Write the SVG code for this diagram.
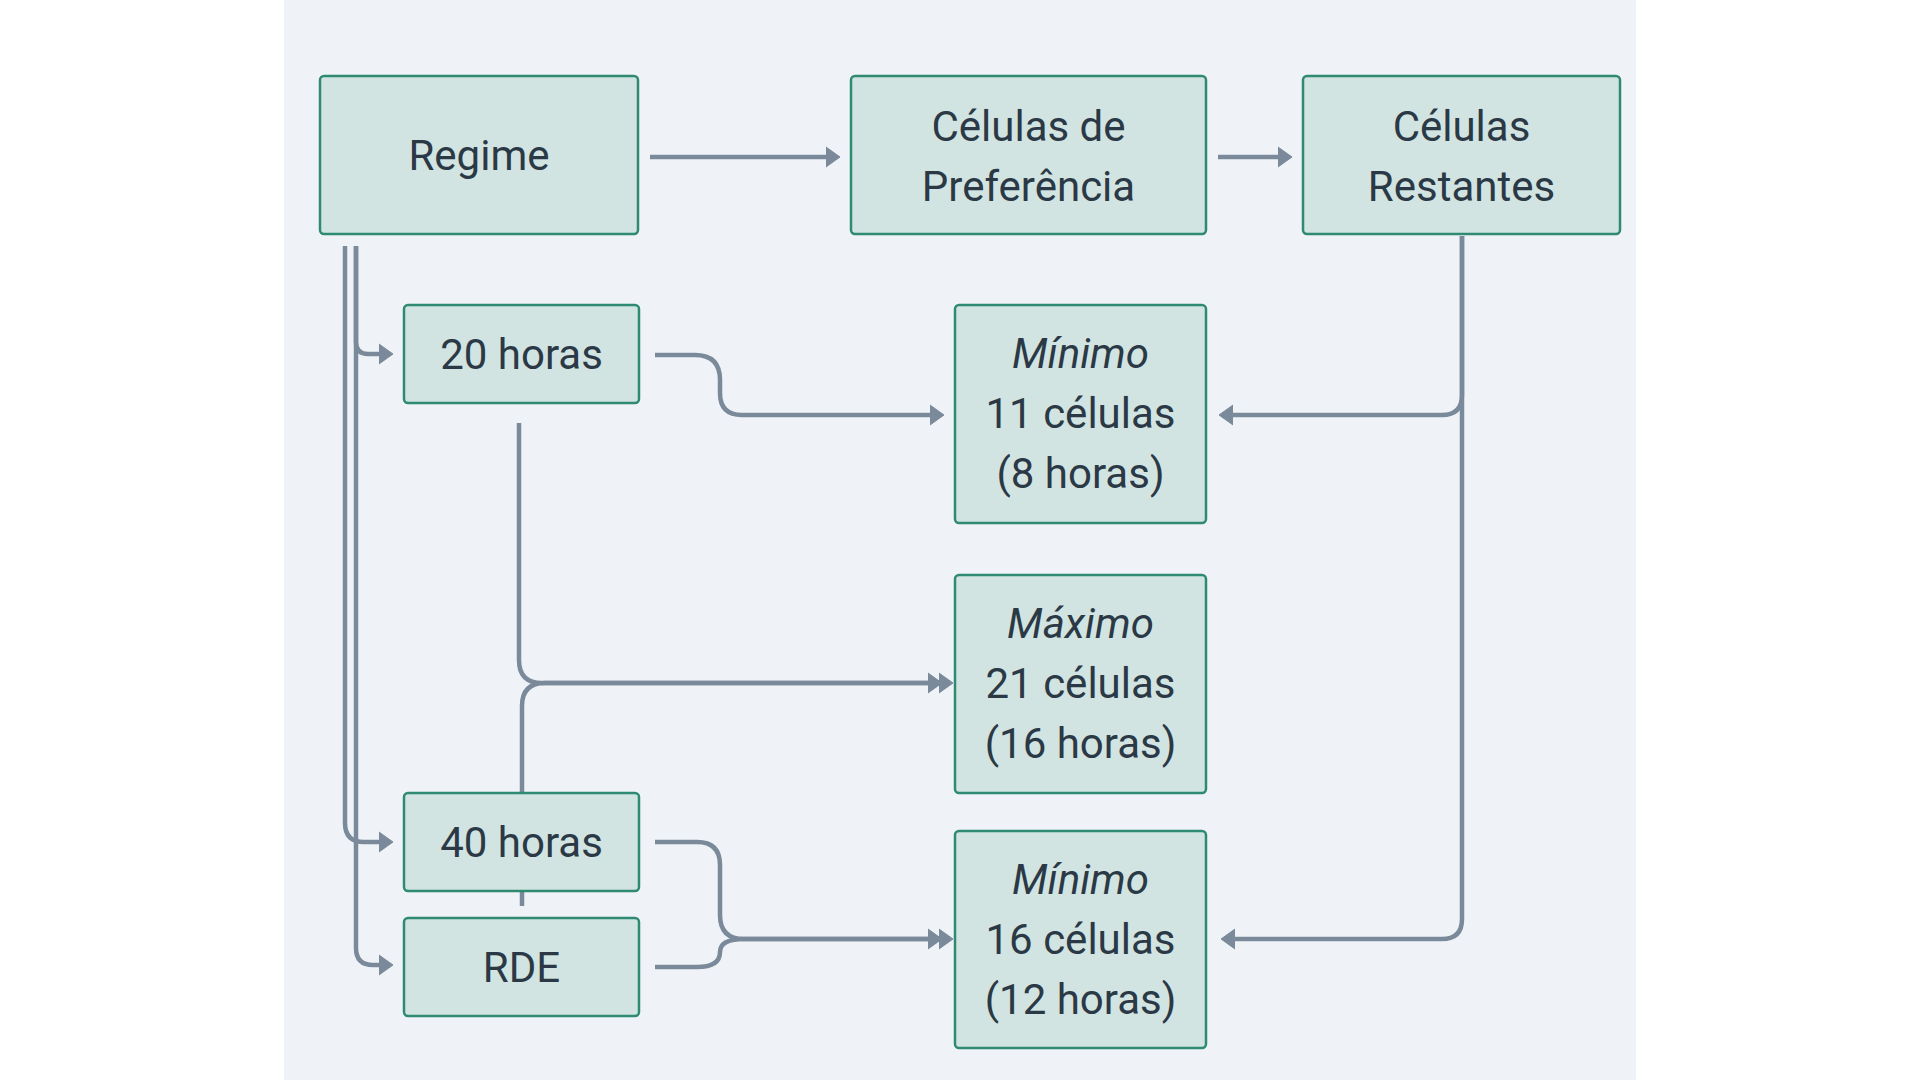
<svg xmlns="http://www.w3.org/2000/svg" width="1920" height="1080" viewBox="0 0 1920 1080">
<style>
.node rect{fill:#d2e4e1;stroke:#2e8a72;stroke-width:2.5}
.node text{font-family:Roboto,"Liberation Sans",sans-serif;font-size:42px;fill:#2b3946;text-anchor:middle}
.it{font-style:italic}
#edges path{fill:none;stroke:#7b8a9a;stroke-width:4.5}
</style>
<defs>
<marker id="arr" viewBox="0 -11 15 22" refX="5" refY="0" markerWidth="15" markerHeight="22" markerUnits="userSpaceOnUse" orient="auto">
<path d="M0,-10 L14,0 L0,10 z" fill="#7b8a9a" stroke="#7b8a9a" stroke-width="1" stroke-linejoin="round"/>
</marker>
</defs>
<rect x="0" y="0" width="1920" height="1080" fill="#ffffff"/>
<rect x="284" y="0" width="1352" height="1080" fill="#eff3f7"/>
<g id="edges">
<path d="M650,157 H831" marker-end="url(#arr)"/>
<path d="M1218,157 H1283" marker-end="url(#arr)"/>
<path d="M356,246 V342 Q356,354 368,354 H384" marker-end="url(#arr)"/>
<path d="M345,246 V823 Q345,842 364,842 H384" marker-end="url(#arr)"/>
<path d="M356,246 V948 Q356,965 373,965 H384" marker-end="url(#arr)"/>
<path d="M655,355 H695 Q720,355 720,380 V393 Q720,415 742,415 H935" marker-end="url(#arr)"/>
<path d="M1462,236 V395 Q1462,415 1442,415 H1228" marker-end="url(#arr)"/>
<path d="M1462,236 V919 Q1462,939 1442,939 H1230" marker-end="url(#arr)"/>
<path d="M519,423 V660 Q519,683 542,683 H933" marker-end="url(#arr)"/>
<path d="M522,906 V706 Q522,683 545,683 H944" marker-end="url(#arr)"/>
<path d="M655,842 H697 Q720,842 720,865 V915 Q720,939 744,939 H933" marker-end="url(#arr)"/>
<path d="M655,967 H697 Q720,967 720,952 Q720,939 744,939 H944" marker-end="url(#arr)"/>
</g>
<g id="regime" class="node"><rect x="320" y="76" width="318" height="158" rx="4"/><text x="479" y="170">Regime</text></g>
<g id="celulas-preferencia" class="node"><rect x="851" y="76" width="355" height="158" rx="4"/><text x="1028.5" y="141">Células de</text><text x="1028.5" y="201">Preferência</text></g>
<g id="celulas-restantes" class="node"><rect x="1303" y="76" width="317" height="158" rx="4"/><text x="1461.5" y="141">Células</text><text x="1461.5" y="201">Restantes</text></g>
<g id="h20" class="node"><rect x="404" y="305" width="235" height="98" rx="4"/><text x="521.5" y="369">20 horas</text></g>
<g id="h40" class="node"><rect x="404" y="793" width="235" height="98" rx="4"/><text x="521.5" y="857">40 horas</text></g>
<g id="rde" class="node"><rect x="404" y="918" width="235" height="98" rx="4"/><text x="521.5" y="982">RDE</text></g>
<g id="min11" class="node"><rect x="955" y="305" width="251" height="218" rx="4"/><text class="it" x="1080.5" y="368">Mínimo</text><text x="1080.5" y="428">11 células</text><text x="1080.5" y="488">(8 horas)</text></g>
<g id="max21" class="node"><rect x="955" y="575" width="251" height="218" rx="4"/><text class="it" x="1080.5" y="638">Máximo</text><text x="1080.5" y="698">21 células</text><text x="1080.5" y="758">(16 horas)</text></g>
<g id="min16" class="node"><rect x="955" y="831" width="251" height="217" rx="4"/><text class="it" x="1080.5" y="894">Mínimo</text><text x="1080.5" y="954">16 células</text><text x="1080.5" y="1014">(12 horas)</text></g>
</svg>
